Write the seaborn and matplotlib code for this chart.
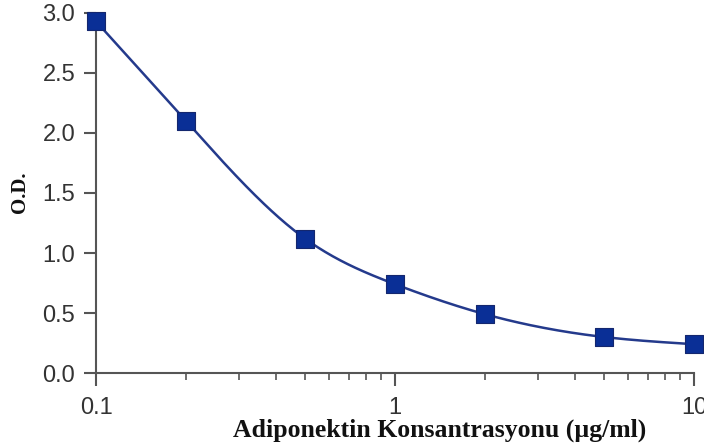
import numpy as np
import pandas as pd
import matplotlib
matplotlib.use("Agg")
import matplotlib.pyplot as plt
import seaborn as sns
from matplotlib.ticker import LogLocator, FixedLocator, FixedFormatter, NullFormatter

# Standard curve: concentration (µg/ml) vs optical density
concentration = [0.1, 0.2, 0.5, 1, 2, 5, 10]
od_values = [2.93, 2.10, 1.12, 0.74, 0.49, 0.30, 0.24]

y_ticks = [0.0, 0.5, 1.0, 1.5, 2.0, 2.5, 3.0]
y_tick_labels = ["0.0", "0.5", "1.0", "1.5", "2.0", "2.5", "3.0"]
x_ticks = [0.1, 1, 10]
x_tick_labels = ["0.1", "1", "10"]

x_label = "Adiponektin Konsantrasyonu (µg/ml)"
y_label = "O.D."


def natural_spline(x, y, xs):
    """Natural cubic spline through (x, y), evaluated at xs."""
    x = np.asarray(x, float)
    y = np.asarray(y, float)
    n = len(x)
    h = np.diff(x)
    A = np.zeros((n, n))
    b = np.zeros(n)
    A[0, 0] = A[-1, -1] = 1.0
    for i in range(1, n - 1):
        A[i, i - 1] = h[i - 1]
        A[i, i] = 2 * (h[i - 1] + h[i])
        A[i, i + 1] = h[i]
        b[i] = 3 * ((y[i + 1] - y[i]) / h[i] - (y[i] - y[i - 1]) / h[i - 1])
    c = np.linalg.solve(A, b)
    out = np.empty_like(xs)
    for k, xv in enumerate(xs):
        i = min(max(np.searchsorted(x, xv) - 1, 0), n - 2)
        dx = xv - x[i]
        bi = (y[i + 1] - y[i]) / h[i] - h[i] * (2 * c[i] + c[i + 1]) / 3
        di = (c[i + 1] - c[i]) / (3 * h[i])
        out[k] = y[i] + bi * dx + c[i] * dx ** 2 + di * dx ** 3
    return out


log_x = np.log10(concentration)
log_dense = np.linspace(log_x[0], log_x[-1], 400)
curve = pd.DataFrame({
    "conc": 10 ** log_dense,
    "od": natural_spline(log_x, od_values, log_dense),
})
points = pd.DataFrame({"conc": concentration, "od": od_values})

sns.set_style("white")
plt.rcParams["font.family"] = ["Liberation Sans", "DejaVu Sans"]

fig = plt.figure(figsize=(7.04, 4.48), dpi=100)
ax = fig.add_axes([0.1364, 0.1674, 0.8494, 0.8036])

line_color = "#243a8c"
marker_color = "#0a2f96"

sns.lineplot(data=curve, x="conc", y="od", ax=ax, color=line_color,
             linewidth=1.8, zorder=2)
sns.scatterplot(data=points, x="conc", y="od", ax=ax, marker="s", s=170,
                color=marker_color, edgecolor="#14276e", linewidth=0.8,
                zorder=3, clip_on=False)

ax.set_xscale("log")
ax.set_xlim(0.1, 10)
ax.set_ylim(0, 3.0)

ax.xaxis.set_major_locator(FixedLocator(x_ticks))
ax.xaxis.set_major_formatter(FixedFormatter(x_tick_labels))
ax.xaxis.set_minor_locator(LogLocator(base=10, subs=np.arange(2, 10)))
ax.xaxis.set_minor_formatter(NullFormatter())
ax.yaxis.set_major_locator(FixedLocator(y_ticks))
ax.yaxis.set_major_formatter(FixedFormatter(y_tick_labels))

axis_gray = "#555555"
for side in ["top", "right"]:
    ax.spines[side].set_visible(False)
for side in ["left", "bottom"]:
    ax.spines[side].set_color(axis_gray)
    ax.spines[side].set_linewidth(1.5)
ax.spines["left"].set_bounds(0, 2.93)

ax.tick_params(axis="x", which="both", bottom=True, top=False)
ax.tick_params(axis="y", which="both", left=True, right=False)
ax.tick_params(axis="both", which="major", direction="out", length=9,
               width=1.5, color=axis_gray, labelsize=17, labelcolor="#333333")
ax.tick_params(axis="x", which="minor", direction="out", length=5,
               width=1.2, color=axis_gray)
ax.tick_params(axis="x", which="major", pad=8)
ax.tick_params(axis="y", which="major", pad=6)

ax.set_xlabel("")
ax.set_ylabel("")

fig.text(0.625, 0.04, x_label, ha="center", va="center",
         family="Liberation Serif", fontweight="bold", fontsize=18.5, color="#111111")
fig.text(0.028, 0.571, y_label, ha="center", va="center", rotation=90,
         family="Liberation Serif", fontweight="bold", fontsize=15, color="#111111")

fig.savefig("out.png", dpi=100, facecolor="white")
